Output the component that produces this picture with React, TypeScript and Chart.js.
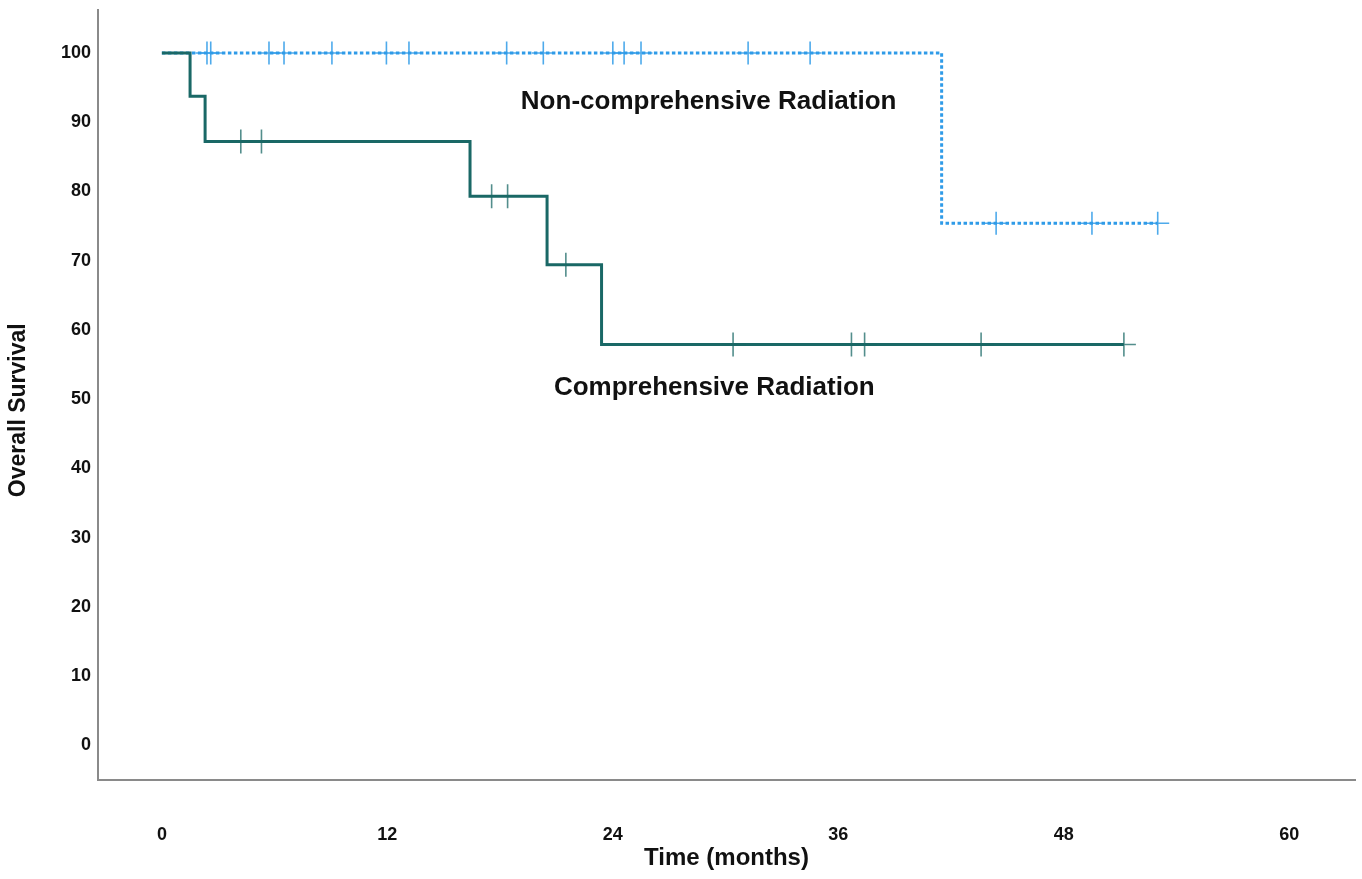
import React, { useEffect, useRef } from "react";
import { Chart, registerables } from "chart.js";

Chart.register(...registerables);

// ---- Data ----
// Comprehensive Radiation: step times (months) and survival (%) after each step
const compTimes = [0, 1.5, 2.3, 16.4, 20.5, 23.4, 51.2];
const compSurvival = [100, 93.75, 87.2, 79.3, 69.4, 57.9, 57.9];
const compCensored = [4.2, 5.3, 17.55, 18.4, 21.5, 30.4, 36.7, 37.4, 43.6, 51.2];

// Non-comprehensive Radiation
const nonTimes = [0, 41.5, 53.0];
const nonSurvival = [100, 75.4, 75.4];
const nonCensored = [
  2.4, 2.6, 5.7, 6.5, 9.05, 11.95, 13.15, 18.35, 20.3, 24.0, 24.6, 25.5, 31.2,
  34.5, 44.4, 49.5, 53.0,
];

const xTicks = [0, 12, 24, 36, 48, 60];
const yTicks = [0, 10, 20, 30, 40, 50, 60, 70, 80, 90, 100];
const seriesLabels = ["Comprehensive Radiation", "Non-comprehensive Radiation"];
const xTitle = "Time (months)";
const yTitle = "Overall Survival";

function stepValue(times: number[], values: number[], t: number): number {
  let v = values[0];
  for (let i = 0; i < times.length; i++) {
    if (times[i] <= t) v = values[i];
  }
  return v;
}

const TEAL = "#1a6866";
const TEAL_CENSOR = "rgba(26,104,102,0.75)";
const BLUE = "#2f9be8";
const BLUE_CENSOR = "rgba(47,155,232,0.85)";

const labelPlugin = {
  id: "kmLabels",
  afterDatasetsDraw(chart: any) {
    const { ctx, scales } = chart;
    const x = scales.x;
    const y = scales.y;
    ctx.save();
    ctx.fillStyle = "#111";
    ctx.font = "bold 26px 'Liberation Sans', Arial, sans-serif";
    ctx.textAlign = "center";
    ctx.textBaseline = "middle";
    ctx.fillText(seriesLabels[1], x.getPixelForValue(29.1), y.getPixelForValue(93.0));
    ctx.fillText(seriesLabels[0], x.getPixelForValue(29.4), y.getPixelForValue(51.7));
    // y-axis title (rotated), placed like the reference (slightly below the axis centre)
    ctx.font = "bold 23px 'Liberation Sans', Arial, sans-serif";
    ctx.translate(19, y.getPixelForValue(48.4));
    ctx.rotate(-Math.PI / 2);
    ctx.fillText(yTitle, 0, 0);
    ctx.restore();
  },
};

export default function App() {
  const canvasRef = useRef<HTMLCanvasElement | null>(null);

  useEffect(() => {
    document.body.style.margin = "0";
    const canvas = canvasRef.current;
    if (!canvas) return;

    const compLine = compTimes.map((t, i) => ({ x: t, y: compSurvival[i] }));
    const nonLine = nonTimes.map((t, i) => ({ x: t, y: nonSurvival[i] }));
    const compMarks = compCensored.map((t) => ({ x: t, y: stepValue(compTimes, compSurvival, t) }));
    const nonMarks = nonCensored.map((t) => ({ x: t, y: stepValue(nonTimes, nonSurvival, t) }));

    const chart = new Chart(canvas, {
      type: "line",
      data: {
        datasets: [
          {
            label: seriesLabels[0] + " censored",
            data: compMarks,
            showLine: false,
            pointStyle: "cross",
            pointRadius: 12,
            pointBorderWidth: 1.6,
            pointBorderColor: TEAL_CENSOR,
            pointBackgroundColor: TEAL_CENSOR,
          },
          {
            label: seriesLabels[0],
            data: compLine,
            stepped: "before",
            borderColor: TEAL,
            borderWidth: 3,
            pointRadius: 0,
            fill: false,
          },
          {
            label: seriesLabels[1] + " censored",
            data: nonMarks,
            showLine: false,
            pointStyle: "cross",
            pointRadius: 11.5,
            pointBorderWidth: 1.6,
            pointBorderColor: BLUE_CENSOR,
            pointBackgroundColor: BLUE_CENSOR,
          },
          {
            label: seriesLabels[1],
            data: nonLine,
            stepped: "before",
            borderColor: BLUE,
            borderWidth: 3,
            borderDash: [3.5, 2.5],
            pointRadius: 0,
            fill: false,
          },
        ],
      },
      options: {
        responsive: false,
        animation: false,
        maintainAspectRatio: false,
        layout: { autoPadding: false, padding: { left: 0, right: 7, top: 10, bottom: 0 } },
        plugins: {
          legend: { display: false },
          tooltip: { enabled: false },
          title: { display: false },
        },
        scales: {
          x: {
            type: "linear",
            min: -3.4,
            max: 63.5,
            afterFit: (scale: any) => {
              scale.height = 99;
              scale.paddingLeft = 0;
              scale.paddingRight = 0;
            },
            afterBuildTicks: (scale: any) => {
              scale.ticks = xTicks.map((v) => ({ value: v }));
            },
            grid: { display: false, drawTicks: false },
            border: { display: true, color: "#8a8a8a", width: 2 },
            ticks: {
              padding: 44,
              color: "#111",
              maxRotation: 0,
              autoSkip: false,
              font: { family: "'Liberation Sans Narrow', 'Liberation Sans', sans-serif", size: 18, weight: "bold" },
            },
            title: {
              display: true,
              text: xTitle,
              color: "#111",
              padding: { top: 6, bottom: 6 },
              font: { family: "'Liberation Sans', Arial, sans-serif", size: 24, weight: "bold" },
            },
          },
          y: {
            type: "linear",
            min: -5,
            max: 106.2,
            afterFit: (scale: any) => {
              scale.width = 98;
              scale.paddingTop = 0;
              scale.paddingBottom = 0;
            },
            afterBuildTicks: (scale: any) => {
              scale.ticks = yTicks.map((v) => ({ value: v }));
            },
            grid: { display: false, drawTicks: false },
            border: { display: true, color: "#8a8a8a", width: 2 },
            ticks: {
              padding: 7,
              color: "#111",
              autoSkip: false,
              font: { family: "'Liberation Sans', Arial, sans-serif", size: 18, weight: "bold" },
            },
            title: { display: false },
          },
        },
      },
      plugins: [labelPlugin],
    });

    return () => chart.destroy();
  }, []);

  return (
    <div style={{ position: "fixed", left: 0, top: 0, width: 1362, height: 879, background: "#fff" }}>
      <canvas ref={canvasRef} width={1362} height={879} />
    </div>
  );
}
